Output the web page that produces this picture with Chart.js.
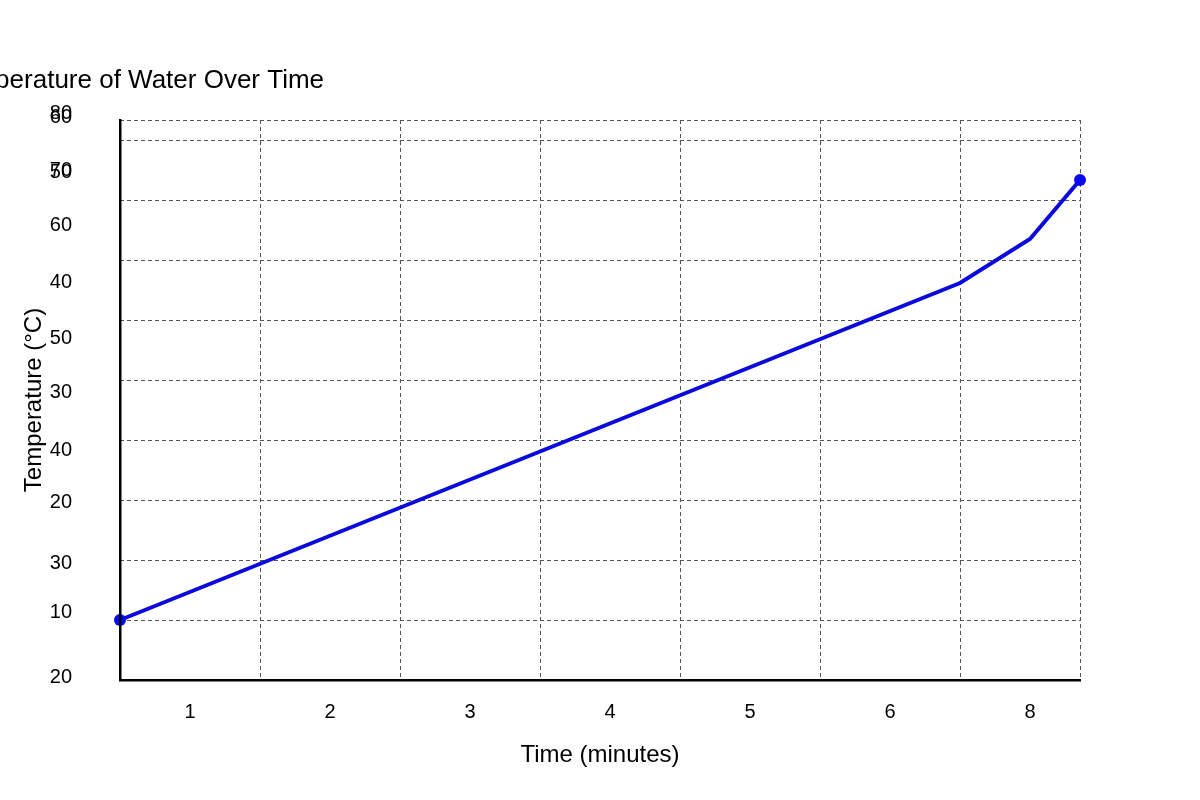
<!DOCTYPE html>
<html><head><meta charset="utf-8">
<script src="https://cdn.jsdelivr.net/npm/chart.js@4/dist/chart.umd.min.js"></script>
<style>html,body{margin:0;padding:0;background:#fff}</style>
</head><body>
<canvas id="c" width="1200" height="800"></canvas>
<script>
// data in plot units: x = minutes-scale position, y = temperature-scale position
const pointX = [0, 84, 91, 96];
const pointY = [6, 39.7, 44.1, 50];
const pointSizes = [6, 0, 0, 6];
const xTickPos = [7, 21, 35, 49, 63, 77, 91];
const xTickLabels = ['1', '2', '3', '4', '5', '6', '8'];
const xGrid = [0, 14, 28, 42, 56, 70, 84, 96];
const yTickPos = [56.7, 56.3, 51, 50.8, 45.5, 39.8, 34.2, 28.8, 23, 17.8, 11.7, 6.8, 0.3];
const yTickLabels = ['80', '60', '70', '50', '60', '40', '50', '30', '40', '20', '30', '10', '20'];
const yGrid = [0, 6, 12, 18, 24, 30, 36, 42, 48, 54, 56];
const titleText = 'Temperature of Water Over Time';

const font = {family: 'Liberation Sans, Arial, sans-serif', size: 20};
const titlePlugin = {id: 't', afterDraw(ch) {
  const c = ch.ctx; c.save(); c.fillStyle = '#000';
  c.font = '26px Liberation Sans, Arial, sans-serif'; c.textBaseline = 'middle';
  c.fillText(titleText, -54, 81); c.restore();
}};
new Chart(document.getElementById('c'), {
  type: 'line',
  data: {datasets: [{data: pointX.map((x, i) => ({x, y: pointY[i]})),
    borderColor: '#0a0adc', backgroundColor: '#0a0aee', borderWidth: 4,
    pointRadius: pointSizes, pointBorderWidth: 0, tension: 0, clip: false}]},
  options: {
    responsive: false, animation: false, devicePixelRatio: 1,
    layout: {padding: 0},
    plugins: {legend: {display: false}, tooltip: {enabled: false}},
    scales: {
      x: {type: 'linear', min: 0, max: 96, position: 'bottom',
        afterBuildTicks: s => { s.ticks = xTickPos.map(v => ({value: v})); },
        afterFit: s => { s.height = 120; },
        ticks: {autoSkip: false, maxRotation: 0, padding: 12, color: '#000', font,
          callback: (v, i) => xTickLabels[i]},
        grid: {display: false}, border: {color: '#000', width: 2.5, z: 2},
        title: {display: true, text: 'Time (minutes)', color: '#000',
          font: {family: font.family, size: 24}, padding: {top: 0, bottom: 30}}},
      x2: {type: 'linear', min: 0, max: 96, position: 'top',
        afterBuildTicks: s => { s.ticks = xGrid.map(v => ({value: v})); },
        afterFit: s => { s.height = 120; },
        ticks: {display: false}, border: {display: false, dash: [4, 3]},
        grid: {color: '#555', lineWidth: 1, drawTicks: false}},
      y: {type: 'linear', min: 0, max: 56, position: 'left',
        afterBuildTicks: s => { s.ticks = yTickPos.map(v => ({value: v})); },
        afterFit: s => { s.width = 120; },
        ticks: {autoSkip: false, padding: 40, color: '#000', font,
          callback: (v, i) => yTickLabels[i]},
        grid: {display: false}, border: {color: '#000', width: 2.5, z: 2},
        title: {display: true, text: 'Temperature (°C)', color: '#000',
          font: {family: font.family, size: 24}, padding: {top: 20}}},
      y2: {type: 'linear', min: 0, max: 56, position: 'right',
        afterBuildTicks: s => { s.ticks = yGrid.map(v => ({value: v})); },
        afterFit: s => { s.width = 120; },
        ticks: {display: false}, border: {display: false, dash: [4, 3]},
        grid: {color: '#555', lineWidth: 1, drawTicks: false}}
    }
  },
  plugins: [titlePlugin]
});
</script>
</body></html>
